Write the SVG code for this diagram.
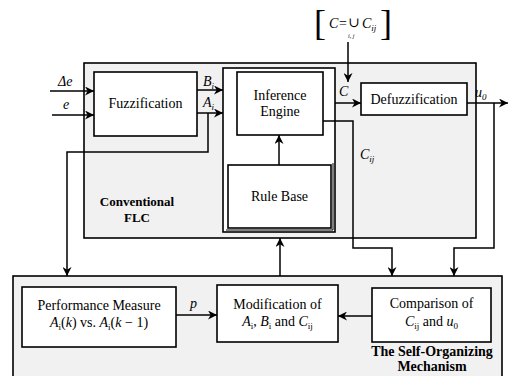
<svg xmlns="http://www.w3.org/2000/svg" width="515" height="376" viewBox="0 0 515 376" font-family="'Liberation Serif', 'DejaVu Serif', serif">
<style>
.box{fill:#fff;stroke:#000;stroke-width:1.6}
.panel{fill:#f1f1f1;stroke:#000;stroke-width:1.6}
.ln{fill:none;stroke:#000;stroke-width:1.5}
text{font-family:'Liberation Serif','DejaVu Serif',serif;font-size:13px;fill:#000}
.t{font-size:14px}
.c{text-anchor:middle}
.i{font-style:italic}
.b{font-weight:bold}
.s{font-size:9px}
.br{font-size:36px}
</style>
<defs>
<marker id="ah" viewBox="0 0 10 10" refX="10" refY="5" markerWidth="9" markerHeight="9" markerUnits="userSpaceOnUse" orient="auto">
<path d="M0,0 L10,5 L0,10 L3,5 Z" fill="#000"/>
</marker>
</defs>
<rect width="515" height="376" fill="#fff"/>
<g id="flc">
<rect class="panel" x="84" y="63" width="392" height="175"/>
<text class="c b" x="137" y="206">Conventional</text>
<text class="c b" x="137" y="222">FLC</text>
</g>
<g id="som">
<rect class="panel" x="13" y="276" width="489" height="120"/>
<text class="c b t" x="432" y="356">The Self-Organizing</text>
<text class="c b t" x="432" y="371">Mechanism</text>
</g>
<g id="formula">
<text class="br" x="314" y="35">[</text>
<text class="br" x="380" y="35">]</text>
<text class="i t" x="329" y="28">C</text>
<text class="t" x="339" y="28">=</text>
<text class="t" x="348" y="27">∪</text>
<text class="i" x="348" y="38" style="font-size:6px">i, j</text>
<text class="i t" x="362" y="28">C<tspan class="s" dy="3">ij</tspan></text>
</g>
<g id="fuzzification">
<rect class="box" x="94" y="72" width="103" height="64"/>
<text class="c t" x="145.5" y="108">Fuzzification</text>
</g>
<g id="engine-group">
<rect class="box" x="223" y="68" width="112" height="164"/>
</g>
<g id="inference">
<rect class="box" x="237" y="72" width="86" height="63"/>
<text class="c t" x="280" y="100">Inference</text>
<text class="c t" x="280" y="116">Engine</text>
</g>
<g id="rulebase">
<rect class="box" x="228" y="165" width="103" height="63"/>
<path d="M226,230 H333 V163" fill="none" stroke="#000" stroke-width="1"/>
<text class="c t" x="279.5" y="201">Rule Base</text>
</g>
<g id="defuzzification">
<rect class="box" x="361" y="83" width="106" height="32"/>
<text class="c t" x="414" y="104">Defuzzification</text>
</g>
<g id="performance">
<rect class="box" x="22" y="287" width="154" height="60"/>
<text class="c t" x="99" y="310">Performance Measure</text>
<text class="c t" x="99" y="327"><tspan class="i">A</tspan><tspan class="s" dy="3">i</tspan><tspan dy="-3">(</tspan><tspan class="i">k</tspan>) vs. <tspan class="i">A</tspan><tspan class="s" dy="3">i</tspan><tspan dy="-3">(</tspan><tspan class="i">k</tspan> − 1)</text>
</g>
<g id="modification">
<rect class="box" x="217" y="285" width="121" height="57"/>
<text class="c t" x="277.5" y="309">Modification of</text>
<text class="c t" x="277.5" y="326"><tspan class="i">A</tspan><tspan class="s" dy="3">i</tspan><tspan dy="-3">, </tspan><tspan class="i">B</tspan><tspan class="s" dy="3">i</tspan><tspan dy="-3"> and </tspan><tspan class="i">C</tspan><tspan class="s" dy="3">ij</tspan></text>
</g>
<g id="comparison">
<rect class="box" x="372" y="288" width="119" height="54"/>
<text class="c t" x="431.5" y="308">Comparison of</text>
<text class="c t" x="431.5" y="326"><tspan class="i">C</tspan><tspan class="s" dy="3">ij</tspan><tspan dy="-3"> and </tspan><tspan class="i">u</tspan><tspan class="s" dy="3">0</tspan></text>
</g>
<g id="connectors">
<path class="ln" d="M50,91 H94" marker-end="url(#ah)"/>
<path class="ln" d="M52,115 H94" marker-end="url(#ah)"/>
<path class="ln" d="M197,90 H223" marker-end="url(#ah)"/>
<path class="ln" d="M197,113 H223" marker-end="url(#ah)"/>
<path class="ln" d="M208,113 V152 H67 V276" marker-end="url(#ah)"/>
<path class="ln" d="M348,42 V82" marker-end="url(#ah)"/>
<path class="ln" d="M335,103 H361" marker-end="url(#ah)"/>
<path class="ln" d="M323,121 H353 V248 H392 V276" marker-end="url(#ah)"/>
<path class="ln" d="M467,103 H508" marker-end="url(#ah)"/>
<path class="ln" d="M494,103 V248 H454 V276" marker-end="url(#ah)"/>
<path class="ln" d="M280,276 V238" marker-end="url(#ah)"/>
<path class="ln" d="M279,165 V135" marker-end="url(#ah)"/>
<path class="ln" d="M176,315 H217" marker-end="url(#ah)"/>
<path class="ln" d="M372,316 H338" marker-end="url(#ah)"/>
<text class="i t" x="58" y="86">Δe</text>
<text class="i t" x="63" y="109">e</text>
<text class="i t" x="203" y="86">B<tspan class="s" dy="3">i</tspan></text>
<text class="i t" x="203" y="107">A<tspan class="s" dy="3">i</tspan></text>
<text class="i t" x="339" y="96">C</text>
<text class="i t" x="360" y="159">C<tspan class="s" dy="3">ij</tspan></text>
<text class="i t" x="475" y="97">u<tspan class="s" dy="3">0</tspan></text>
<text class="i t" x="190" y="308">p</text>
</g>
</svg>
